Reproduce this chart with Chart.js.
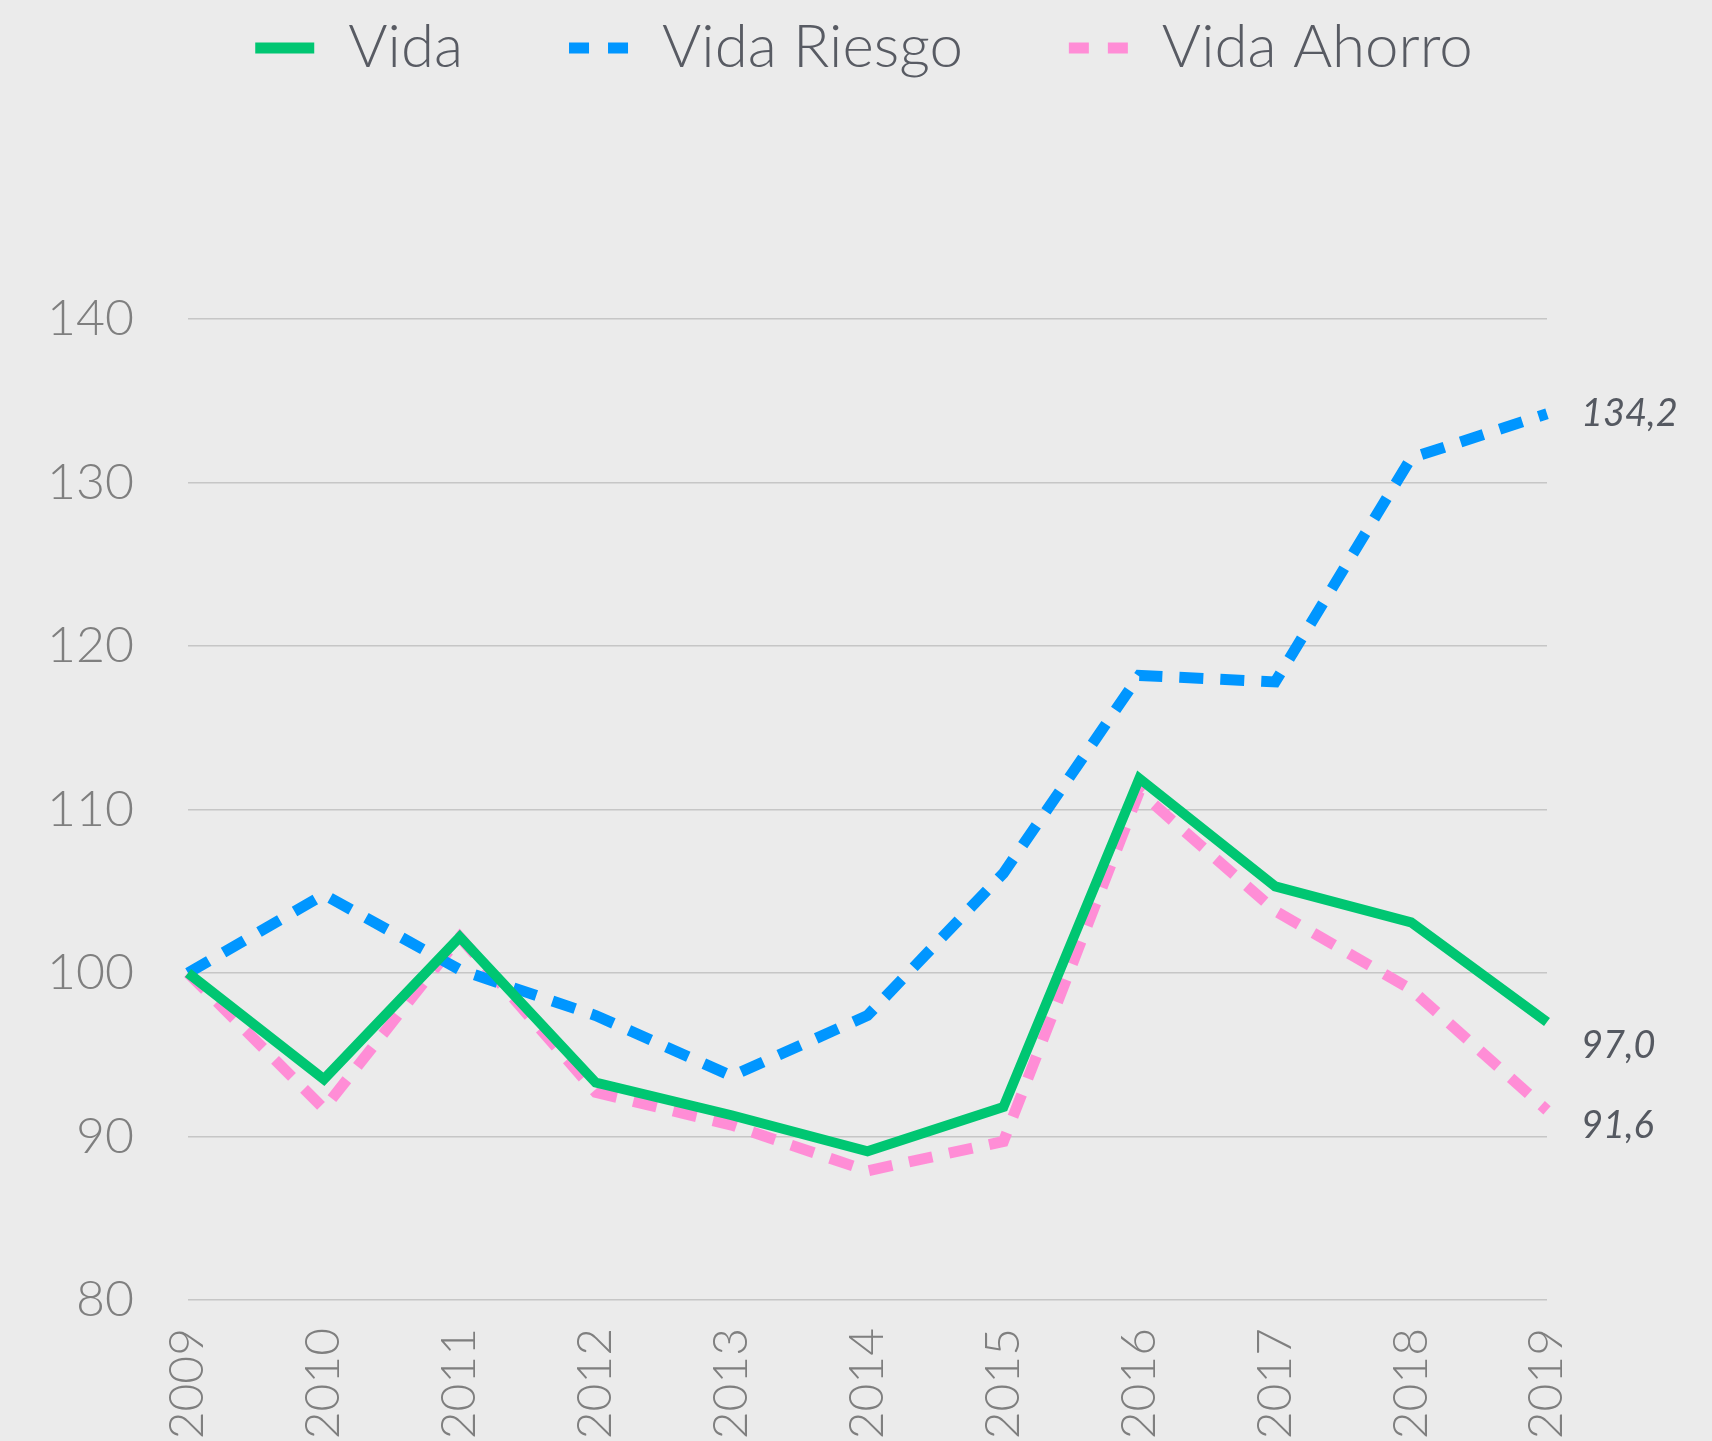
<!DOCTYPE html>
<html lang="es">
<head>
<meta charset="utf-8">
<title>Vida, Vida Riesgo y Vida Ahorro (2009 = 100)</title>
<script src="https://cdn.jsdelivr.net/npm/chart.js@4/dist/chart.umd.min.js"></script>
<style>
  html, body { margin: 0; padding: 0; background: #ebebeb; }
  #wrap { width: 1712px; height: 1441px; position: relative; }
  canvas { display: block; }
</style>
</head>
<body>
<div id="wrap"><canvas id="chart" width="1712" height="1441"></canvas></div>
<script>
// Years on the horizontal axis
const years = ['2009', '2010', '2011', '2012', '2013', '2014', '2015', '2016', '2017', '2018', '2019'];

// Index values, base 2009 = 100
const vida        = [100.0, 93.5, 102.2, 93.3, 91.3, 89.1, 91.8, 111.9, 105.3, 103.1, 97.0];
const vidaRiesgo  = [100.0, 104.8, 100.2, 97.4, 93.7, 97.4, 106.1, 118.2, 117.8, 131.5, 134.2];
const vidaAhorro  = [100.0, 91.7, 102.2, 92.7, 90.7, 87.9, 89.7, 111.1, 103.8, 99.0, 91.6];

// Series names and the y-axis range
const seriesNames = ['Vida', 'Vida Riesgo', 'Vida Ahorro'];
const yTicks = [80, 90, 100, 110, 120, 130, 140];

const FONT = 'Lato, "Open Sans", "DejaVu Sans", sans-serif';
const GREEN = '#00c672';
const BLUE = '#0096ff';
const PINK = '#ff8dd6';

// Legend row drawn above the plot: line sample + name, centered
const topLegend = {
  id: 'topLegend',
  afterDraw(chart, args, opts) {
    const ctx = chart.ctx;
    ctx.save();
    ctx.font = '300 ' + opts.fontSize + 'px ' + FONT;
    ctx.textBaseline = 'middle';
    const items = chart.data.datasets.map(ds => ({
      text: ds.label,
      color: ds.borderColor,
      dash: ds.borderDash || [],
      width: ctx.measureText(ds.label).width
    }));
    let total = 0;
    items.forEach((it, i) => {
      total += opts.boxWidth + opts.textGap + it.width;
      if (i < items.length - 1) total += opts.itemGap;
    });
    let x = (chart.width - total) / 2 + opts.shiftX;
    const y = opts.y;
    items.forEach(it => {
      ctx.beginPath();
      ctx.strokeStyle = it.color;
      ctx.lineWidth = opts.lineWidth;
      ctx.lineCap = 'butt';
      ctx.setLineDash(it.dash.length ? opts.legendDash : []);
      ctx.moveTo(x, y);
      ctx.lineTo(x + opts.boxWidth, y);
      ctx.stroke();
      ctx.setLineDash([]);
      x += opts.boxWidth + opts.textGap;
      ctx.fillStyle = opts.color;
      ctx.textAlign = 'left';
      ctx.fillText(it.text, x, y);
      x += it.width + opts.itemGap;
    });
    ctx.restore();
  }
};

// Value of the last point written to the right of each line
const endLabels = {
  id: 'endLabels',
  afterDatasetsDraw(chart, args, opts) {
    const ctx = chart.ctx;
    ctx.save();
    ctx.font = 'italic ' + opts.fontSize + 'px ' + FONT;
    ctx.fillStyle = opts.color;
    ctx.textAlign = 'left';
    ctx.textBaseline = 'middle';
    chart.data.datasets.forEach((ds, i) => {
      const meta = chart.getDatasetMeta(i);
      const last = meta.data[meta.data.length - 1];
      const value = ds.data[ds.data.length - 1];
      const text = value.toFixed(1).replace('.', ',');
      ctx.fillText(text, last.x + opts.dx, last.y + (opts.dy[i] || 0));
    });
    ctx.restore();
  }
};

const ctx = document.getElementById('chart').getContext('2d');
new Chart(ctx, {
  type: 'line',
  data: {
    labels: years,
    datasets: [
      {
        label: seriesNames[0],
        data: vida,
        borderColor: GREEN,
        borderWidth: 10,
        pointRadius: 0,
        tension: 0,
        borderJoinStyle: 'miter'
      },
      {
        label: seriesNames[1],
        data: vidaRiesgo,
        borderColor: BLUE,
        borderWidth: 11,
        borderDash: [24, 17],
        pointRadius: 0,
        tension: 0
      },
      {
        label: seriesNames[2],
        data: vidaAhorro,
        borderColor: PINK,
        borderWidth: 11,
        borderDash: [24, 17],
        pointRadius: 0,
        tension: 0
      }
    ]
  },
  options: {
    responsive: false,
    animation: false,
    devicePixelRatio: 1,
    layout: { padding: { top: 319, right: 165, bottom: 0, left: 51 } },
    plugins: {
      legend: { display: false },
      tooltip: { enabled: false },
      topLegend: {
        y: 48, fontSize: 60, color: '#585b63', boxWidth: 59, textGap: 34, itemGap: 106,
        lineWidth: 11, legendDash: [20, 19], shiftX: 8
      },
      endLabels: { fontSize: 38, color: '#555961', dx: 34, dy: [24, 0, 15] }
    },
    scales: {
      x: {
        offset: false,
        grid: { display: false, drawTicks: false },
        border: { display: false },
        ticks: {
          color: '#7f7f7f',
          font: { family: FONT, size: 48, weight: 300 },
          minRotation: 90,
          maxRotation: 90,
          padding: 28,
          autoSkip: false
        },
        afterFit(scale) { scale.height = 141; }
      },
      y: {
        min: yTicks[0],
        max: yTicks[yTicks.length - 1],
        afterBuildTicks(scale) { scale.ticks = yTicks.map(v => ({ value: v })); },
        grid: { color: '#c6c6c6', lineWidth: 1.5, drawTicks: false },
        border: { display: false },
        ticks: {
          color: '#7f7f7f',
          font: { family: FONT, size: 50, weight: 300 },
          padding: 54
        },
        afterFit(scale) { scale.width = 137; }
      }
    }
  },
  plugins: [topLegend, endLabels]
});
</script>
</body>
</html>
